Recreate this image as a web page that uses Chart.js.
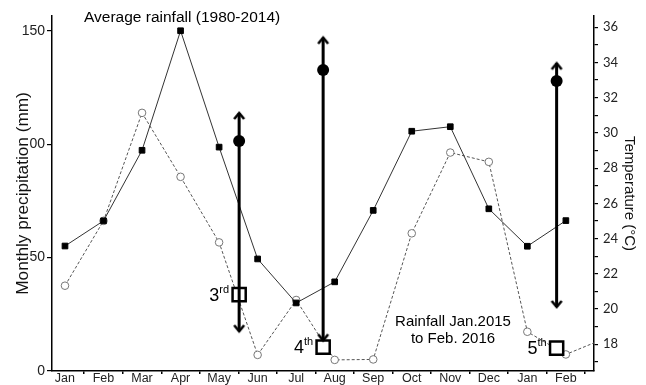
<!DOCTYPE html>
<html>
<head>
<meta charset="utf-8">
<script src="https://cdn.jsdelivr.net/npm/chart.js@4/dist/chart.umd.min.js"></script>
<style>
  html, body { margin: 0; padding: 0; background: #fff; }
  #wrap { width: 646px; height: 385px; position: relative; }
</style>
</head>
<body>
<div id="wrap"><canvas id="rain"></canvas></div>
<script>
/* Month categories (Jan 2015 .. Feb 2016) */
const months = ['Jan', 'Feb', 'Mar', 'Apr', 'May', 'Jun', 'Jul', 'Aug', 'Sep', 'Oct', 'Nov', 'Dec', 'Jan', 'Feb'];

/* Average monthly rainfall 1980-2014 (mm) */
const avgRain = [55.1, 66.2, 97.3, 150, 98.7, 49.4, 30.0, 39.3, 70.8, 105.7, 107.7, 71.5, 55.0, 66.3];

/* Rainfall Jan.2015 to Feb.2016 (mm); last value runs past the axis edge */
const rain2015 = [37.6, 66.2, 113.8, 85.6, 56.7, 7.1, 31.3, 4.9, 5.1, 60.7, 96.3, 92.2, 17.3, 7.3, 14.3];

/* Temperature events (°C) */
const eventNums = ['3', '4', '5'];
const eventSups = ['rd', 'th', 'th'];
const eventX = [4.52, 6.70, 12.76];
const tempTop = [31.13, 35.41, 33.95];
const tempCircle = [29.54, 33.57, 32.95];
const tempBottom = [18.74, 18.22, 20.12];
const tempSquare = [20.82, 17.84, 17.78];

/* Tick labels */
const rainTicks = [0, 50, 100, 150];
const rainTickLabels = ['0', '50', '00', '150'];
const tempTicks = [17, 18, 19, 20, 21, 22, 23, 24, 25, 26, 27, 28, 29, 30, 31, 32, 33, 34, 35, 36];

const SANS = '"Liberation Sans", Arial, sans-serif';

/* Open chevron used as arrow head, tip at canvas centre */
function makeChevron(up) {
    var c = document.createElement('canvas');
    c.width = 16;
    c.height = 16;
    var g = c.getContext('2d');
    g.strokeStyle = '#000';
    g.lineWidth = 2.6;
    g.lineJoin = 'miter';
    g.beginPath();
    var d = up ? 6 : -6;
    g.moveTo(3, 8 + d);
    g.lineTo(8, 8);
    g.lineTo(13, 8 + d);
    g.stroke();
    return c;
}
const upHead = makeChevron(true);
const downHead = makeChevron(false);

/* One dataset per vertical arrow */
var arrowSets = eventX.map(function(x, i) {
    return {
        type: 'line',
        data: [{ x: x, y: tempTop[i] }, { x: x, y: tempBottom[i] }],
        yAxisID: 'yT',
        borderColor: '#000',
        borderWidth: 3,
        pointStyle: [upHead, downHead],
        pointRadius: 3,
        order: 2
    };
});

/* Free text on the plot */
const textPlugin = {
    id: 'plotText',
    afterDatasetsDraw(chart) {
        var ctx = chart.ctx;
        var area = chart.chartArea;
        var xs = chart.scales.x;
        var yT = chart.scales.yT;
        ctx.save();
        ctx.fillStyle = '#000';
        ctx.textBaseline = 'middle';

        ctx.font = '15.5px ' + SANS;
        ctx.textAlign = 'left';
        ctx.fillText('Average rainfall (1980-2014)', area.left + 32, area.top + 2);

        ctx.font = '15px ' + SANS;
        ctx.textAlign = 'center';
        ctx.fillText('Rainfall Jan.2015', area.left + 401, area.top + 306);
        ctx.fillText('to Feb. 2016', area.left + 401, area.top + 323);

        /* ordinal labels beside the squares */
        eventNums.forEach(function(n, i) {
            var sx = xs.getPixelForValue(eventX[i]);
            var sy = yT.getPixelForValue(tempSquare[i]);
            ctx.textAlign = 'right';
            ctx.font = '11px ' + SANS;
            var supRight = sx - 10;
            ctx.fillText(eventSups[i], supRight, sy - 5);
            var supW = ctx.measureText(eventSups[i]).width;
            ctx.font = '18px ' + SANS;
            ctx.fillText(n, supRight - supW, sy + 1);
        });
        ctx.restore();
    }
};

const chart = new Chart(document.getElementById('rain'), {
    type: 'line',
    data: {
        datasets: [
            {
                label: 'Average rainfall (1980-2014)',
                data: avgRain.map(function(v, i) { return { x: i, y: v }; }),
                yAxisID: 'y',
                borderColor: '#333',
                borderWidth: 1,
                pointStyle: 'rect',
                pointRadius: 4,
                pointBackgroundColor: '#000',
                pointBorderColor: '#000',
                pointBorderWidth: 1,
                order: 5
            },
            {
                label: 'Rainfall Jan.2015 to Feb. 2016',
                data: rain2015.map(function(v, i) { return { x: i, y: v }; }),
                yAxisID: 'y',
                borderColor: '#555',
                borderWidth: 1,
                borderDash: [3, 2],
                pointStyle: 'circle',
                pointRadius: rain2015.map(function(v, i) { return i < months.length ? 3.8 : 0; }),
                pointBackgroundColor: '#fff',
                pointBorderColor: '#777',
                pointBorderWidth: 1,
                order: 6
            },
            {
                type: 'scatter',
                data: eventX.map(function(x, i) { return { x: x, y: tempSquare[i] }; }),
                yAxisID: 'yT',
                pointStyle: 'rect',
                pointRadius: 9.3,
                pointBackgroundColor: '#fff',
                pointBorderColor: '#000',
                pointBorderWidth: 2.5,
                order: 3
            },
            {
                type: 'scatter',
                data: eventX.map(function(x, i) { return { x: x, y: tempCircle[i] }; }),
                yAxisID: 'yT',
                pointStyle: 'circle',
                pointRadius: 6,
                pointBackgroundColor: '#000',
                pointBorderColor: '#000',
                pointBorderWidth: 0,
                order: 1
            }
        ].concat(arrowSets)
    },
    options: {
        responsive: true,
        maintainAspectRatio: false,
        animation: false,
        elements: { line: { tension: 0 } },
        layout: { padding: { top: 16, left: 0, right: 0, bottom: 0 } },
        plugins: {
            legend: { display: false },
            tooltip: { enabled: false }
        },
        scales: {
            x: {
                type: 'linear',
                position: 'bottom',
                min: -0.337,
                max: 13.73,
                afterBuildTicks: function(s) {
                    s.ticks = months.map(function(m, i) { return { value: i + 0.5 }; });
                },
                afterFit: function(s) { s.height = 14; },
                grid: { drawOnChartArea: false, drawTicks: true, tickLength: 3, color: '#000', lineWidth: 1.5 },
                border: { color: '#000', width: 1.5 },
                ticks: {
                    autoSkip: false,
                    maxRotation: 0,
                    minRotation: 0,
                    padding: -3,
                    labelOffset: -19.3,
                    color: '#222',
                    font: { family: SANS, size: 12.5 },
                    callback: function(v, i) { return months[i]; }
                }
            },
            y: {
                type: 'linear',
                position: 'left',
                min: 0,
                max: 156.5,
                afterBuildTicks: function(s) {
                    s.ticks = rainTicks.map(function(v) { return { value: v }; });
                },
                afterFit: function(s) { s.width = 52; },
                grid: { drawOnChartArea: false, tickLength: 5, color: '#000', lineWidth: 1.2 },
                border: { color: '#000', width: 1.5 },
                ticks: {
                    padding: 2,
                    color: '#222',
                    font: { family: SANS, size: 14 },
                    callback: function(v, i) { return rainTickLabels[i]; }
                },
                title: {
                    display: true,
                    text: 'Monthly precipitation (mm)',
                    color: '#111',
                    font: { family: SANS, size: 17.2 },
                    padding: { top: 13, bottom: 0 }
                }
            },
            yT: {
                type: 'linear',
                position: 'right',
                min: 16.48,
                max: 36.64,
                afterBuildTicks: function(s) {
                    s.ticks = tempTicks.map(function(v) { return { value: v }; });
                },
                afterFit: function(s) { s.width = 52; },
                grid: { drawOnChartArea: false, tickLength: 4, color: '#000', lineWidth: 1.2 },
                border: { color: '#000', width: 1.5 },
                ticks: {
                    padding: 5,
                    color: '#222',
                    font: { family: 'Lato, "Open Sans", sans-serif', size: 13 },
                    callback: function(v) { return v % 2 === 0 ? String(v) : ''; }
                },
                title: {
                    display: true,
                    text: 'Temperature (°C)',
                    color: '#111',
                    font: { family: SANS, size: 15 },
                    padding: { top: 8, bottom: 0 }
                }
            }
        }
    },
    plugins: [textPlugin]
});
</script>
</body>
</html>
